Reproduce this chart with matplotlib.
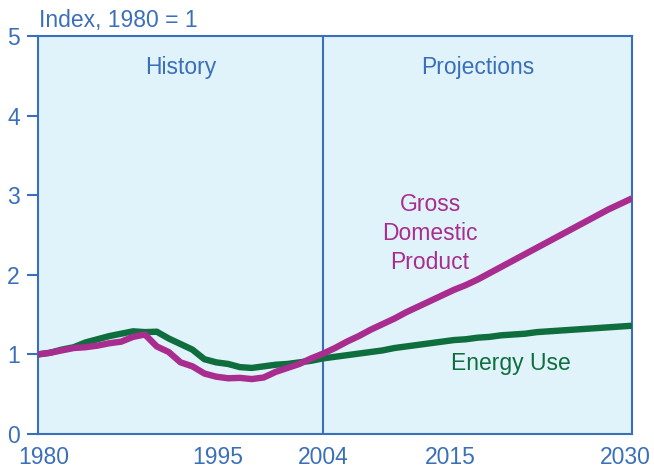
import matplotlib
matplotlib.use('Agg')
import matplotlib.pyplot as plt
import matplotlib.transforms as mtransforms

plt.rcParams['font.family'] = ['Liberation Sans', 'DejaVu Sans']

# ---- data ---- #
years = list(range(1980, 2031))
gdp = [1.00, 1.02, 1.05, 1.08, 1.09, 1.11, 1.14, 1.16, 1.22, 1.25,
       1.10, 1.03, 0.90, 0.85, 0.76, 0.72, 0.70, 0.705, 0.69, 0.71,
       0.78, 0.83, 0.88, 0.95, 1.01,
       1.08, 1.16, 1.23, 1.31, 1.38, 1.45, 1.53, 1.60, 1.67, 1.74,
       1.81, 1.87, 1.94, 2.02, 2.10, 2.18, 2.26, 2.34, 2.42, 2.50,
       2.58, 2.66, 2.74, 2.82, 2.89, 2.96]
energy = [1.00, 1.02, 1.06, 1.09, 1.15, 1.19, 1.23, 1.26, 1.29, 1.28,
          1.285, 1.20, 1.13, 1.06, 0.94, 0.90, 0.88, 0.84, 0.83, 0.85,
          0.87, 0.88, 0.90, 0.92, 0.95,
          0.97, 0.99, 1.01, 1.03, 1.05, 1.08, 1.10, 1.12, 1.14, 1.16,
          1.18, 1.19, 1.21, 1.22, 1.24, 1.25, 1.26, 1.28, 1.29, 1.30,
          1.31, 1.32, 1.33, 1.34, 1.35, 1.36]
xticks = [1980, 1995, 2004, 2015, 2030]
yticks = [0, 1, 2, 3, 4, 5]

blue = '#3a6fb9'
magenta = '#a82d8e'
green = '#0f6e3e'
bg = '#e0f2fa'
fs = 16.5

fig = plt.figure(figsize=(6.54, 4.71), dpi=100)
ax = fig.add_axes([38/654, 37/471, 594/654, 398/471])
ax.set_facecolor(bg)

ax.plot(years, energy, color=green, lw=4.6, solid_capstyle='butt', zorder=3)
ax.plot(years, gdp, color=magenta, lw=4.6, solid_capstyle='butt', zorder=4)
ax.axvline(2004, color=blue, lw=1.5, zorder=2)

ax.set_xlim(1980, 2030)
ax.set_ylim(0, 5)
ax.set_xticks(xticks)
ax.set_yticks(yticks)
for s in ax.spines.values():
    s.set_color(blue)
    s.set_linewidth(1.5)
ax.tick_params(axis='x', length=0, pad=9, labelsize=fs, labelcolor=blue)
ax.tick_params(axis='y', length=8, width=1.5, color=blue, pad=5,
               labelsize=fs, labelcolor=blue)

# nudge end labels so they sit inside the figure like the original
shifts = [6, 2, 0, -3, -7]
for lab, dx in zip(ax.get_xticklabels(), shifts):
    lab.set_transform(lab.get_transform() +
                      mtransforms.ScaledTranslation(dx/100, 0, fig.dpi_scale_trans))

ax.text(1992, 4.61, 'History', color=blue, fontsize=fs, ha='center', va='center')
ax.text(2017, 4.61, 'Projections', color=blue, fontsize=fs, ha='center', va='center')
ax.text(2013, 2.52, 'Gross\nDomestic\nProduct', color=magenta, fontsize=fs,
        ha='center', va='center', linespacing=1.35)
ax.text(2019.8, 0.89, 'Energy Use', color=green, fontsize=fs, ha='center', va='center')

fig.text(39/654, 1 - 27/471, 'Index, 1980 = 1', color=blue, fontsize=fs,
         ha='left', va='baseline')

fig.savefig('out.png', dpi=100)
